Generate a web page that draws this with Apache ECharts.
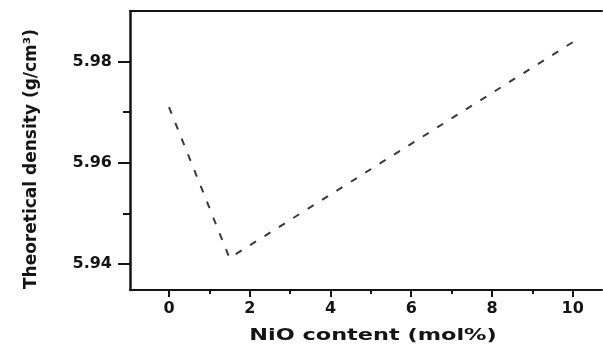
<!DOCTYPE html>
<html>
<head>
<meta charset="utf-8">
<script src="https://cdn.jsdelivr.net/npm/echarts@6/dist/echarts.min.js"></script>
<style>
  html, body { margin: 0; padding: 0; background: #fff; }
  #chart { width: 603px; height: 351px; }
</style>
</head>
<body>
<div id="chart"></div>
<script>
// NiO content (mol%) and the theoretical density at each composition
const nioContent = [0, 1.5, 10];
const theoreticalDensity = [5.971, 5.9412, 5.9838];

// Axis tick positions
const xMajorTicks = [0, 2, 4, 6, 8, 10];
const xMinorTicks = [1, 3, 5, 7, 9];
const yMajorTicks = [5.94, 5.96, 5.98];
const yMinorTicks = [5.95, 5.97];

const xTitle = 'NiO content (mol%)';
const yTitle = 'Theoretical density (g/cm³)';

const FONT = '"DejaVu Sans", "Liberation Sans", Arial, sans-serif';
const INK = '#141414';

const xRange = { min: -0.966, max: 10.726 };
const yRange = { min: 5.9349, max: 5.98996 };

const chart = echarts.init(document.getElementById('chart'), null, { renderer: 'canvas' });

chart.setOption({
  animation: false,
  backgroundColor: '#ffffff',
  grid: { left: 130, top: 11, right: 1, bottom: 61, containLabel: false },
  xAxis: [
    {
      type: 'value', position: 'bottom', ...xRange,
      axisLine: { show: true, onZero: false, lineStyle: { color: INK, width: 2 } },
      axisTick: { show: true, customValues: xMajorTicks, length: 7, lineStyle: { color: INK, width: 2 } },
      axisLabel: {
        show: true, customValues: xMajorTicks, margin: 11,
        color: INK, fontFamily: FONT, fontWeight: 'bold', fontSize: 16,
        formatter: v => String(v)
      },
      splitLine: { show: false }
    },
    {
      type: 'value', position: 'bottom', ...xRange,
      axisLine: { show: false, onZero: false },
      axisTick: { show: true, customValues: xMinorTicks, length: 4, lineStyle: { color: INK, width: 2 } },
      axisLabel: { show: false },
      splitLine: { show: false }
    },
    {
      type: 'value', position: 'top', ...xRange,
      axisLine: { show: true, onZero: false, lineStyle: { color: INK, width: 2 } },
      axisTick: { show: false },
      axisLabel: { show: false },
      splitLine: { show: false }
    }
  ],
  yAxis: [
    {
      type: 'value', position: 'left', ...yRange,
      axisLine: { show: true, onZero: false, lineStyle: { color: INK, width: 2.5 } },
      axisTick: { show: true, customValues: yMajorTicks, length: 12, lineStyle: { color: INK, width: 2 } },
      axisLabel: {
        show: true, customValues: yMajorTicks, margin: 18,
        color: INK, fontFamily: FONT, fontWeight: 'bold', fontSize: 16,
        formatter: v => v.toFixed(2)
      },
      splitLine: { show: false }
    },
    {
      type: 'value', position: 'left', ...yRange,
      axisLine: { show: false, onZero: false },
      axisTick: { show: true, customValues: yMinorTicks, length: 7, lineStyle: { color: INK, width: 2 } },
      axisLabel: { show: false },
      splitLine: { show: false }
    }
  ],
  graphic: [
    {
      type: 'text', x: 373, y: 336, scaleX: 1.4,
      style: {
        text: xTitle, fill: INK,
        font: 'bold 16px ' + FONT,
        textAlign: 'center', textVerticalAlign: 'middle'
      }
    },
    {
      type: 'text', x: 32, y: 159, rotation: Math.PI / 2,
      style: {
        text: yTitle, fill: INK,
        font: 'bold 17px ' + FONT,
        textAlign: 'center', textVerticalAlign: 'middle'
      }
    }
  ],
  series: [
    {
      type: 'line',
      xAxisIndex: 0, yAxisIndex: 0,
      data: nioContent.map((x, i) => [x, theoreticalDensity[i]]),
      showSymbol: false,
      symbol: 'none',
      lineStyle: { color: '#3a3a3a', width: 2, type: [7, 10] }
    }
  ]
});
</script>
</body>
</html>
